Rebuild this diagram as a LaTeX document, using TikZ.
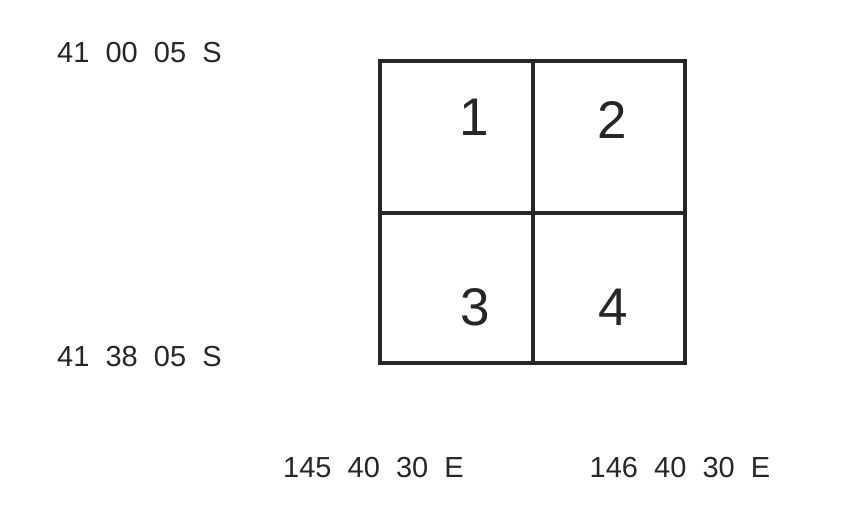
\documentclass[tikz,border=0pt]{standalone}
\usepackage{fontspec}
\setmainfont{Liberation Sans}
\usetikzlibrary{positioning}

\begin{document}
\begin{tikzpicture}[x=1pt,y=-1pt,font=\fontsize{29}{30}\selectfont,lbl/.style={inner sep=0pt,text=black!85},num/.style={inner sep=0pt,text=black!85,font=\fontsize{53}{54}\selectfont},gridline/.style={line width=3.2pt,draw=black!85}]
\useasboundingbox (0,0) rectangle (857,521);
\coordinate (nw) at (380,61); \coordinate (se) at (685,363);
\coordinate (mid) at (533,213);
\draw[gridline] (nw) rectangle (se);
\draw[gridline] (mid |- nw) -- (mid |- se);
\draw[gridline] (nw |- mid) -- (se |- mid);
\node[num] (q1) at (474,117) {1};
\node[num] (q2) at (612,120) {2};
\node[num] (q3) at (475,307) {3};
\node[num] (q4) at (613,307) {4};
\node[lbl,anchor=west] (lattop) at (57,52.5) {41~~00~~05~~S};
\node[lbl,anchor=west] (latbot) at (57,356.5) {41~~38~~05~~S};
\node[lbl] (lonleft) at (373.5,468) {145~~40~~30~~E};
\node[lbl] (lonright) at (680,468) {146~~40~~30~~E};
\end{tikzpicture}
\end{document}
